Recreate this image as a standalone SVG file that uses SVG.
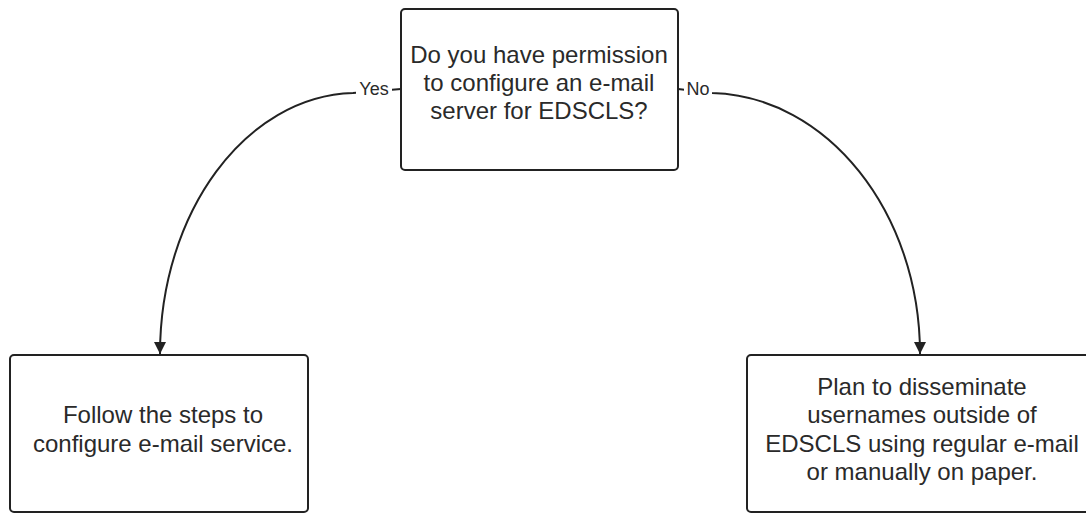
<svg xmlns="http://www.w3.org/2000/svg" width="1086" height="514" viewBox="0 0 1086 514">
<style>
.box{fill:#fff;stroke:#222;stroke-width:2}
.t{font-family:"Liberation Sans",Arial,sans-serif;font-size:24px;fill:#2a2a2a;text-anchor:middle}
.lbl{font-family:"Liberation Sans",Arial,sans-serif;font-size:18px;fill:#2a2a2a;text-anchor:middle}
.conn{fill:none;stroke:#222;stroke-width:2}
</style>
<defs>
<marker id="arr" viewBox="0 0 12 12" refX="12" refY="6" markerWidth="12" markerHeight="12" markerUnits="userSpaceOnUse" orient="auto">
<path d="M0,0 L12,6 L0,12 z" fill="#222"/>
</marker>
</defs>
<rect width="1086" height="514" fill="#fff"/>
<g id="connectors">
<path class="conn" d="M401,89 L353,93 C246,96 160,212 160,354" marker-end="url(#arr)"/>
<path class="conn" d="M678,89 L712,93 C827,96 920,212 920,354" marker-end="url(#arr)"/>
<rect x="356" y="79" width="36" height="20" fill="#fff"/>
<text class="lbl" x="374" y="95">Yes</text>
<rect x="684" y="79" width="28" height="20" fill="#fff"/>
<text class="lbl" x="698" y="95">No</text>
</g>
<g id="question">
<rect class="box" x="401" y="9" width="277" height="161" rx="4"/>
<text class="t" x="539" y="63">Do you have permission</text>
<text class="t" x="539" y="91">to configure an e-mail</text>
<text class="t" x="539" y="119">server for EDSCLS?</text>
</g>
<g id="yes-box">
<rect class="box" x="10" y="355" width="298" height="157" rx="4"/>
<text class="t" x="163" y="423">Follow the steps to</text>
<text class="t" x="163" y="452">configure e-mail service.</text>
</g>
<g id="no-box">
<rect class="box" x="747" y="355" width="346" height="157" rx="4"/>
<text class="t" x="922" y="395">Plan to disseminate</text>
<text class="t" x="922" y="423">usernames outside of</text>
<text class="t" x="922" y="452">EDSCLS using regular e-mail</text>
<text class="t" x="922" y="480">or manually on paper.</text>
</g>
</svg>
